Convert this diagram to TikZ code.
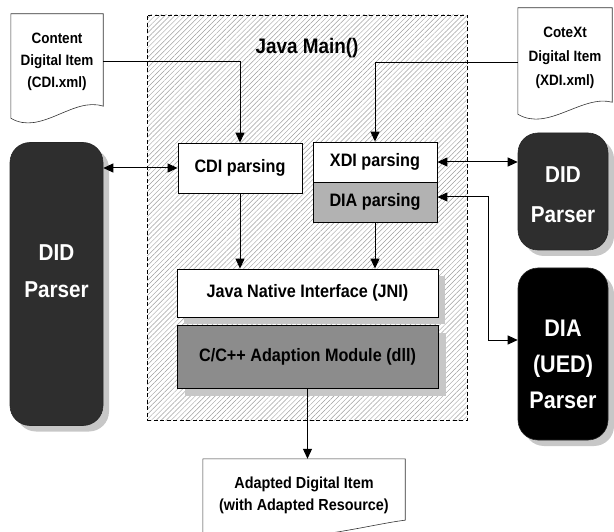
\documentclass[tikz,border=0pt]{standalone}
\usepackage{fontspec}
\setmainfont{Liberation Sans}[FakeStretch=0.9]
\usetikzlibrary{arrows.meta,patterns.meta,calc,shadows}
\tikzset{
  box/.style={draw, line width=0.8pt, inner sep=0pt, font=\fontsize{18}{18}\selectfont\bfseries},
  shad/.style={drop shadow={shadow xshift=#1pt, shadow yshift=-#1pt, fill=black!22, opacity=1}},
  parser/.style={draw=black!85, line width=0.6pt, rounded corners=20pt, inner sep=0pt, shad=6},
  ptext/.style={text=white, align=center, font=\fontsize{23}{37}\selectfont\bfseries},
  doctext/.style={inner sep=0pt, align=center, font=\fontsize{15}{22}\selectfont\bfseries},
  docline/.style={draw=black!80, line width=0.6pt},
  conn/.style={line width=1pt},
}
\begin{document}
\begin{tikzpicture}[x=1pt,y=-1pt, >={Triangle[length=10pt,width=9pt]}]
\useasboundingbox (0,0) rectangle (614,532);
% Java Main area
\node[draw, dash pattern=on 4pt off 2.5pt, line width=0.9pt,
      pattern={Lines[angle=45,distance=3.5pt,line width=0.45pt]}, pattern color=black!38,
      minimum width=320pt, minimum height=405pt, inner sep=0pt] (jm) at (307,217.5) {};
\node[font=\fontsize{21}{21}\selectfont\bfseries] (jmt) at (307,48) {Java Main()};
% parsing boxes
\node[box, fill=white, minimum width=124pt, minimum height=50pt] (cdip) at (240,168) {CDI parsing};
\node[box, fill=white, minimum width=124pt, minimum height=40pt] (xdip) at (375,162) {XDI parsing};
\node[box, fill=black!30, minimum width=124pt, minimum height=40pt] (diap) at (375,202) {DIA parsing};
% JNI and C/C++
\node[box, fill=black!45, shad=8, minimum width=261pt, minimum height=63pt] (cpp) at (307.5,356.5) {C/C++ Adaption Module (dll)};
\node[box, fill=white, shad=7, minimum width=261pt, minimum height=48pt] (jni) at (307.5,293) {Java Native Interface (JNI)};
% parsers
\node[parser, fill=black!82, minimum width=93pt, minimum height=283pt] (didl) at (56.5,284) {};
\node[ptext] (didlt) at (56.5,271) {DID\\Parser};
\node[parser, fill=black!82, minimum width=90pt, minimum height=117pt] (didr) at (563,191.5) {};
\node[ptext, font=\fontsize{23}{40}\selectfont\bfseries] (didrt) at (563,195) {DID\\Parser};
\node[parser, fill=black, minimum width=90pt, minimum height=172pt] (diau) at (563,354) {};
\node[ptext, font=\fontsize{24}{36}\selectfont\bfseries] (diaut) at (563,364) {DIA\\(UED)\\Parser};
% documents
\node[doctext, minimum width=92pt, minimum height=96pt] (cdidoc) at (57,62) {Content\\Digital Item\\(CDI.xml)};
\draw[docline] (cdidoc.north west) -- (cdidoc.north east) -- ($(cdidoc.south east)+(0,-4)$)
  .. controls ($(cdidoc.south east)+(-30,-14)$) and ($(cdidoc.south west)+(30,26)$) .. ($(cdidoc.south west)+(0,8)$) -- cycle;
\node[doctext, font=\fontsize{15}{24}\selectfont\bfseries, minimum width=94pt, minimum height=100pt] (xdidoc) at (565,58) {CoteXt\\Digital Item\\(XDI.xml)};
\draw[docline] (xdidoc.north west) -- (xdidoc.north east) -- ($(xdidoc.south east)+(0,-6)$)
  .. controls ($(xdidoc.south east)+(-30,-14)$) and ($(xdidoc.south west)+(30,24)$) .. ($(xdidoc.south west)+(0,6)$) -- cycle;
\node[doctext, font=\fontsize{16}{22}\selectfont\bfseries, minimum width=202pt, minimum height=72pt] (adoc) at (304,495) {Adapted Digital Item\\(with Adapted Resource)};
\draw[docline] (adoc.north west) -- (adoc.north east) -- ($(adoc.south east)+(0,-11)$)
  .. controls ($(adoc.south east)+(-35,-7)$) and ($(adoc.south west)+(97,14)$) .. ($(adoc.south west)+(0,9)$) -- cycle;
% connectors
\draw[conn,->] (cdidoc.east) -| (cdip.north);
\draw[conn,->] ($(xdidoc.west)+(0,5)$) -| (xdip.north);
\draw[conn,<->] (cdip.west) -- (cdip.west -| didl.east);
\draw[conn,<->] (xdip.east) -- (xdip.east -| didr.west);
\coordinate (k1) at (488,197);
\coordinate (k2) at (488,340);
\draw[conn,<->] ($(diap.east)+(0,-5)$) -- (k1) -- (k2) -- (k2 -| diau.west);
\draw[conn,->] (cdip.south) -- (cdip.south |- jni.north);
\draw[conn,->] (diap.south) -- (diap.south |- jni.north);
\draw[conn,->] (cpp.south) -- (cpp.south |- adoc.north);
\end{tikzpicture}
\end{document}
